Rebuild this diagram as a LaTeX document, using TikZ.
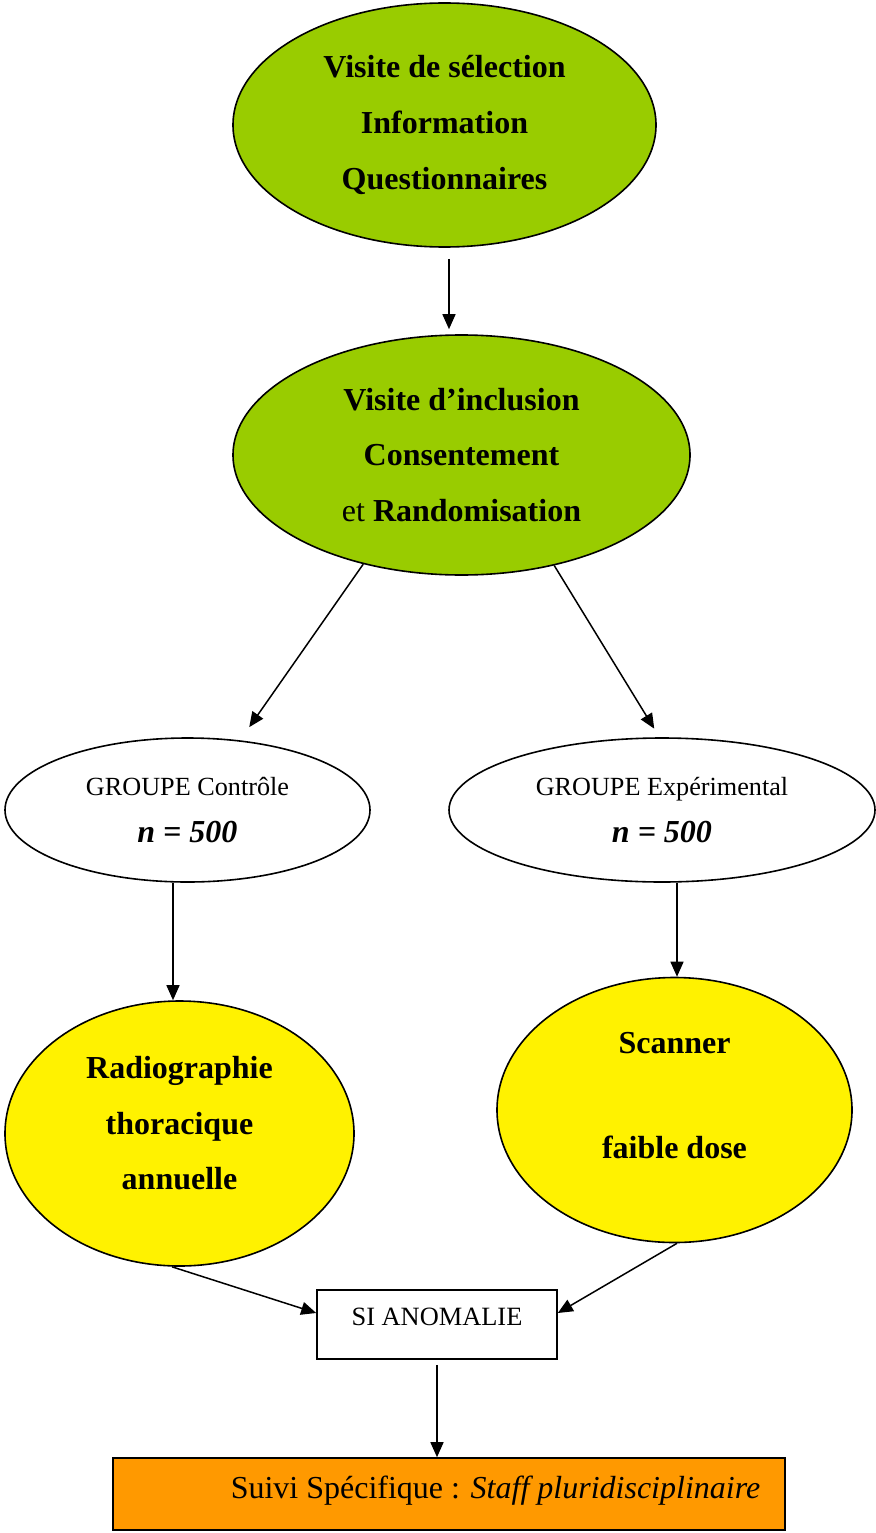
\documentclass[tikz,border=0pt]{standalone}
\usepackage{fontspec}
\setmainfont{Liberation Serif}
\usetikzlibrary{shapes.geometric,arrows.meta}
\definecolor{limegreen}{RGB}{153,204,0}
\definecolor{orangebox}{RGB}{255,153,0}

\begin{document}
\begin{tikzpicture}[x=1pt,y=-1pt,
  oval/.style={ellipse,draw=black,line width=1.6pt,inner sep=0pt},
  greenoval/.style={oval,fill=limegreen,align=center},
  groupoval/.style={oval,fill=white,align=center,
    font=\fontsize{26.2}{47}\selectfont},
  yellowoval/.style={oval,fill=yellow},
  ovaltext/.style={inner sep=0pt,align=center,
    font=\fontsize{32}{55.5}\selectfont\bfseries},
  framebox/.style={draw=black,line width=1.6pt,inner sep=0pt},
  arr/.style={line width=1.5pt,-{Triangle[length=15pt,width=13pt]}}]
 \useasboundingbox (0,0) rectangle (875,1533);
 % ovales du haut
 \node[greenoval,minimum width=423pt,minimum height=244pt,
   font=\fontsize{32}{56}\selectfont\bfseries] (selection) at (444.5,125)
   {Visite de sélection\\Information\\Questionnaires};
 \node[greenoval,minimum width=457pt,minimum height=240pt,
   font=\fontsize{32}{55.25}\selectfont\bfseries] (inclusion) at (461.5,455)
   {Visite d’inclusion\\Consentement\\{\mdseries et} Randomisation};
 % groupes
 \node[groupoval,minimum width=365pt,minimum height=144pt] (controle) at (187.5,810)
   {GROUPE Contrôle\\{\fontsize{32}{47}\selectfont\bfseries\itshape n = 500}};
 \node[groupoval,minimum width=426pt,minimum height=144pt] (experimental) at (662,810)
   {GROUPE Expérimental\\{\fontsize{32}{47}\selectfont\bfseries\itshape n = 500}};
 % examens
 \node[yellowoval,minimum width=349pt,minimum height=265pt] (radio) at (179.5,1133.5) {};
 \node[ovaltext] (radioText) at (179.5,1123.3)
   {Radiographie\\thoracique\\annuelle};
 \node[yellowoval,minimum width=355pt,minimum height=265pt] (scanner) at (674.5,1110) {};
 \node[ovaltext,font=\fontsize{32}{55}\selectfont\bfseries] (scannerText) at (674.5,1095.5)
   {Scanner\\[50.4pt]faible dose};
 % boites du bas
 \node[framebox,fill=white,minimum width=240pt,
   text height=35.7pt,text depth=33.3pt,
   font=\fontsize{26.4}{30}\selectfont] (anomalie) at (437,1324.5) {SI ANOMALIE};
 \node[framebox,fill=orangebox,minimum width=672pt,
   text height=40.6pt,text depth=31.4pt,
   font=\fontsize{32}{36}\selectfont] (suivi) at (449,1494)
   {\hspace*{93pt}Suivi Spécifique : \textit{Staff pluridisciplinaire}};
 % fleches
 \draw[arr,shorten <=11pt,shorten >=5pt] ([xshift=4.5pt]selection.south)
   -- ([xshift=-12.5pt]inclusion.north);
 \draw[arr,shorten >=16pt] (inclusion.-132.4) -- (controle.53.8);
 \draw[arr,shorten >=10pt] (inclusion.-50.2) -- (experimental.92.9);
 \draw[arr] ([xshift=-14.5pt]controle.south) -- ([xshift=-6.5pt]radio.north);
 \draw[arr] ([xshift=15pt]experimental.south) -- ([xshift=2.5pt]scanner.north);
 \draw[arr] ([xshift=-7.5pt]radio.south) -- ([yshift=11.5pt]anomalie.west);
 \draw[arr] ([xshift=2.5pt]scanner.south) -- ([yshift=11.5pt]anomalie.east);
 \draw[arr,shorten <=5pt] (anomalie.south) -- ([xshift=-12pt]suivi.north);
\end{tikzpicture}
\end{document}
